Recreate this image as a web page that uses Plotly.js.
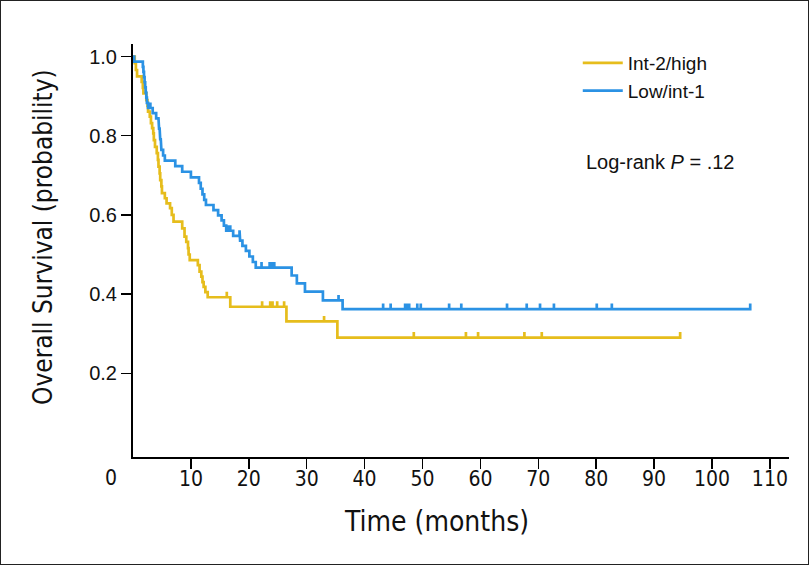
<!DOCTYPE html>
<html>
<head>
<meta charset="utf-8">
<script src="https://cdn.plot.ly/plotly-3.0.1.min.js"></script>
<style>
  html, body { margin: 0; padding: 0; background: #fff; }
  #wrap { position: relative; width: 809px; height: 565px; }
  #chart { width: 809px; height: 565px; }
  #frame { position: absolute; left: 0; top: 0; width: 809px; height: 565px; box-sizing: border-box; border: 1px solid #222; pointer-events: none; }
</style>
</head>
<body>
<div id="wrap"><div id="chart"></div><div id="frame"></div></div>
<script>
// ---- Data (time in months, survival probability) ----
const seriesNames = ["Int-2/high", "Low/int-1"];

// Int-2/high
const intHighEventTimes = [0.3, 0.5, 0.7, 1.5, 1.7, 1.8, 2.3, 2.5, 2.6, 2.9, 3.1, 3.3, 3.5, 3.6, 3.8, 4.1, 4.3, 4.4, 4.6, 4.7, 4.9, 5.0, 5.5, 5.8, 6.4, 6.7, 7.0, 8.5, 8.9, 9.2, 9.5, 9.6, 9.8, 11.2, 11.5, 11.8, 12.0, 12.2, 12.5, 12.9, 16.8, 26.5, 35.3];
const intHighSurvival   = [0.983, 0.966, 0.950, 0.936, 0.921, 0.907, 0.890, 0.875, 0.861, 0.848, 0.832, 0.819, 0.806, 0.789, 0.772, 0.756, 0.739, 0.722, 0.705, 0.688, 0.672, 0.655, 0.642, 0.629, 0.617, 0.600, 0.583, 0.566, 0.545, 0.532, 0.516, 0.500, 0.486, 0.473, 0.457, 0.444, 0.430, 0.418, 0.405, 0.392, 0.368, 0.331, 0.290];
const intHighCensorTimes = [16.2, 22.3, 23.7, 24.1, 24.9, 26.1, 33.0, 48.5, 57.5, 59.6, 67.6, 70.6, 94.5];

// Low/int-1
const lowInt1EventTimes = [0.2, 1.7, 1.8, 1.9, 2.0, 2.1, 2.2, 2.3, 2.4, 2.6, 3.4, 4.0, 4.4, 4.5, 4.6, 4.7, 4.8, 4.9, 5.2, 5.5, 7.3, 8.5, 10.0, 11.4, 11.7, 12.0, 12.3, 12.6, 13.9, 14.7, 15.3, 15.7, 16.1, 17.3, 18.5, 18.9, 19.5, 20.1, 20.7, 21.2, 27.4, 28.3, 29.7, 32.8, 36.2];
const lowInt1Survival   = [0.987, 0.974, 0.961, 0.948, 0.935, 0.922, 0.909, 0.896, 0.883, 0.870, 0.857, 0.844, 0.831, 0.818, 0.804, 0.791, 0.777, 0.764, 0.750, 0.737, 0.723, 0.709, 0.695, 0.681, 0.666, 0.652, 0.638, 0.625, 0.612, 0.599, 0.586, 0.573, 0.560, 0.547, 0.535, 0.522, 0.509, 0.495, 0.481, 0.467, 0.447, 0.427, 0.406, 0.384, 0.362];
const lowInt1CensorTimes = [3.0, 16.4, 16.8, 18.4, 22.2, 23.6, 24.0, 24.4, 35.5, 43.2, 44.5, 47.0, 47.3, 47.7, 49.1, 49.7, 54.6, 56.7, 64.6, 68.0, 70.3, 72.7, 80.1, 82.7, 106.6];

const xTickVals = [10, 20, 30, 40, 50, 60, 70, 80, 90, 100, 110];
const yTickVals = [0.2, 0.4, 0.6, 0.8, 1.0];
const yTickText = ["0.2", "0.4", "0.6", "0.8", "1.0"];
const xTitle = "Time (months)";
const yTitle = "Overall Survival (probability)";
const pValueText = "Log-rank <i>P</i> = .12";

// ---- Style ----
const colors = ["#e6bd1c", "#2b92e4"];
const censorMarkHeight = 0.014;

// Build Kaplan-Meier step path with upward censor ticks
function kmPath(eventTimes, survival, censorTimes) {
  const xs = [0], ys = [1];
  let s = 1;
  let i = 0, j = 0;
  while (i < eventTimes.length || j < censorTimes.length) {
    const te = i < eventTimes.length ? eventTimes[i] : Infinity;
    const tc = j < censorTimes.length ? censorTimes[j] : Infinity;
    if (te <= tc) {
      xs.push(te, te); ys.push(s, survival[i]);
      s = survival[i]; i++;
    } else {
      xs.push(tc, tc, tc); ys.push(s, s + censorMarkHeight, s);
      j++;
    }
  }
  return {x: xs, y: ys};
}

const p1 = kmPath(intHighEventTimes, intHighSurvival, intHighCensorTimes);
const p2 = kmPath(lowInt1EventTimes, lowInt1Survival, lowInt1CensorTimes);

const traces = [
  {x: p1.x, y: p1.y, type: "scatter", mode: "lines", name: seriesNames[0],
   line: {color: colors[0], width: 2.7, shape: "linear"}},
  {x: p2.x, y: p2.y, type: "scatter", mode: "lines", name: seriesNames[1],
   line: {color: colors[1], width: 2.7, shape: "linear"}}
];

const narrow = "'DejaVu Sans Condensed', 'Liberation Sans Narrow', sans-serif";
const regular = "'Liberation Sans', Arial, Helvetica, sans-serif";

const layout = {
  width: 809, height: 565,
  paper_bgcolor: "#fff", plot_bgcolor: "#fff",
  margin: {l: 133, r: 20, t: 44, b: 108, pad: 0},
  showlegend: true,
  legend: {
    x: 0.678, y: 1.0, xanchor: "left", yanchor: "top",
    font: {family: regular, size: 19, color: "#111"},
    bgcolor: "rgba(0,0,0,0)", borderwidth: 0, tracegroupgap: 0, itemwidth: 40
  },
  xaxis: {
    range: [0, 113.3], showgrid: false, zeroline: false,
    showline: true, linecolor: "#000", linewidth: 2,
    ticks: "outside", ticklen: 10, tickwidth: 1.5, tickcolor: "#000",
    tickvals: xTickVals, ticktext: xTickVals.map(String),
    tickfont: {family: narrow, size: 21, color: "#111"}, ticklabelstandoff: -8
  },
  yaxis: {
    range: [-0.0114, 1.0316], showgrid: false, zeroline: false,
    showline: true, linecolor: "#000", linewidth: 2,
    ticks: "outside", ticklen: 10, tickwidth: 1.5, tickcolor: "#000",
    tickvals: yTickVals, ticktext: yTickText,
    tickfont: {family: regular, size: 20, color: "#111"}
  },
  annotations: [
    {xref: "paper", yref: "paper", x: 0.462, y: -0.157, text: xTitle, showarrow: false,
     xanchor: "center", yanchor: "middle", font: {family: narrow, size: 28, color: "#111"}},
    {xref: "paper", yref: "paper", x: -0.137, y: 0.533, text: yTitle, showarrow: false, textangle: -90,
     xanchor: "center", yanchor: "middle", font: {family: narrow, size: 26, color: "#111"}},
    {xref: "x", yref: "paper", x: 0, y: 0, yshift: -21, xshift: -22, text: "0", showarrow: false,
     xanchor: "center", yanchor: "middle", font: {family: narrow, size: 21, color: "#111"}},
    {xref: "paper", yref: "paper", x: 0.6875, y: 0.714, text: pValueText, showarrow: false,
     xanchor: "left", yanchor: "middle", font: {family: regular, size: 20, color: "#111"}}
  ]
};

Plotly.newPlot("chart", traces, layout, {displayModeBar: false, staticPlot: true});
</script>
</body>
</html>
